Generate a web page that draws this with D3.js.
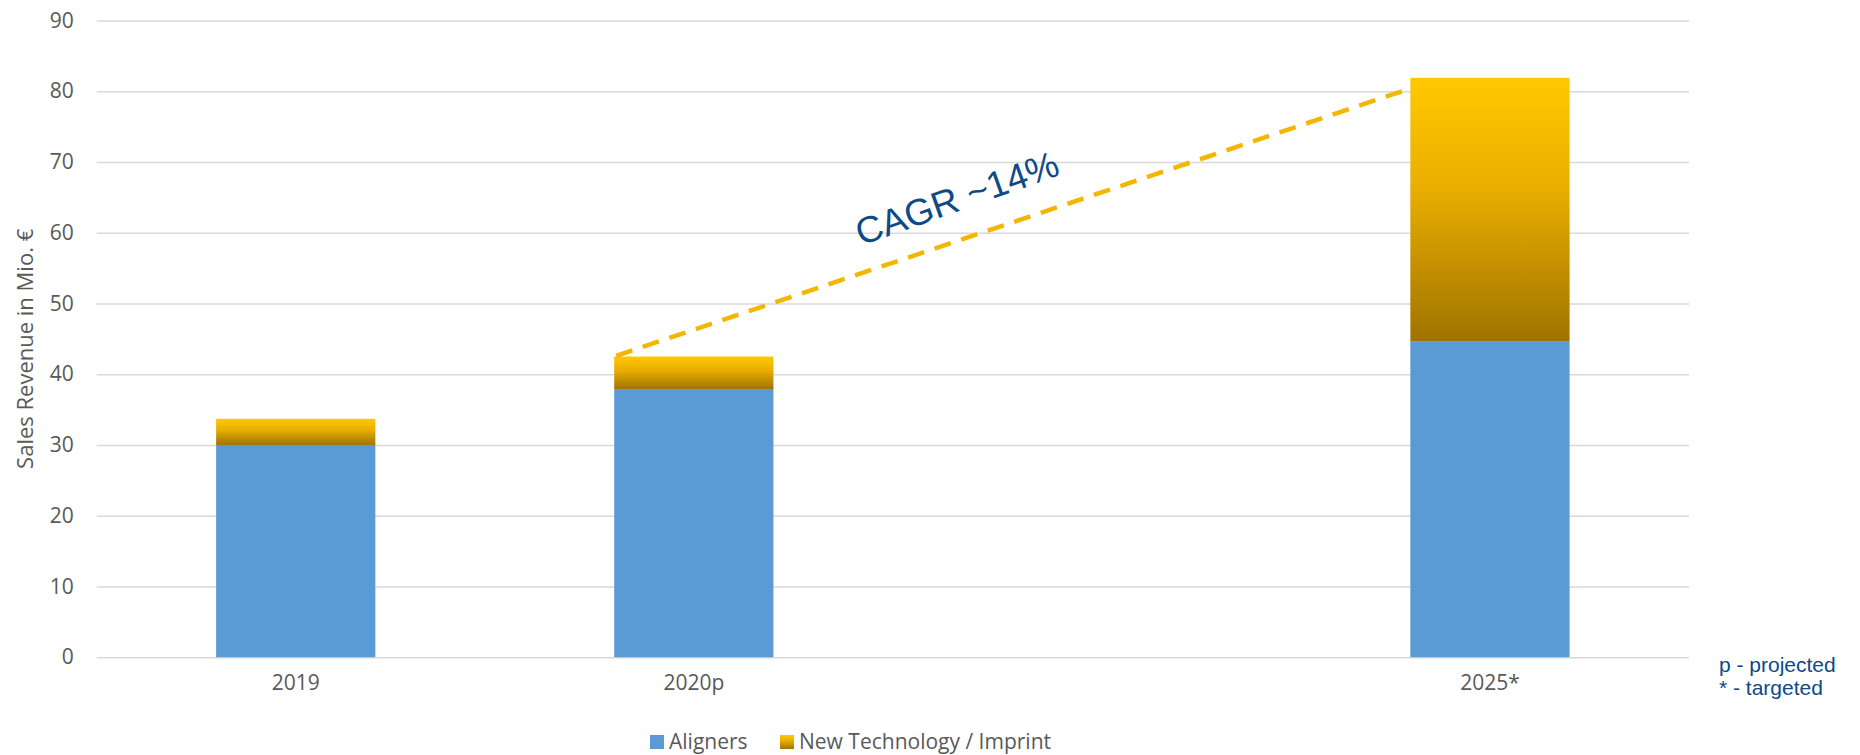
<!DOCTYPE html>
<html>
<head>
<meta charset="utf-8">
<script src="https://cdn.jsdelivr.net/npm/d3@7"></script>
<style>
  html, body { margin: 0; padding: 0; background: #fff; }
  svg { display: block; }
</style>
</head>
<body>
<svg id="chart" width="1860" height="755"></svg>
<script>
// ---- data ----
const categories = ["2019", "2020p", "", "2025*"];
const aligners   = [30, 37.9, null, 44.6];
const newTech    = [3.7, 4.6, null, 37.3];
const seriesNames = ["Aligners", "New Technology / Imprint"];
const yTicks = [0, 10, 20, 30, 40, 50, 60, 70, 80, 90];
const cagrFrom = { category: "2020p", value: 42.6 };
const cagrTo   = { category: "2025*", value: 80.4 };
const cagrLabel = "CAGR ~14%";
const yTitle = "Sales Revenue in Mio. €";
const notes = ["p - projected", "* - targeted"];

// ---- layout ----
const svg = d3.select("#chart");
const plotL = 96.7, plotR = 1689, plotT = 20.5, plotB = 657.2;
const uiFont = "'Open Sans', 'Noto Sans', sans-serif";
const arialFont = "'Liberation Sans', Arial, sans-serif";

const x = d3.scaleBand().domain(categories).range([plotL, plotR])
  .paddingInner(0.6).paddingOuter(0.3);
const y = d3.scaleLinear().domain([0, 90]).range([plotB, plotT]);

const defs = svg.append("defs");
const grad = defs.append("linearGradient").attr("id", "gold")
  .attr("x1", 0).attr("y1", 0).attr("x2", 0).attr("y2", 1);
grad.append("stop").attr("offset", "0%").attr("stop-color", "#FFC800");
grad.append("stop").attr("offset", "40%").attr("stop-color", "#EBB000");
grad.append("stop").attr("offset", "100%").attr("stop-color", "#A07300");

// gridlines + y labels
const yAxis = svg.append("g").attr("transform", `translate(${plotL},0)`)
  .call(d3.axisLeft(y).tickValues(yTicks).tickSize(-(plotR - plotL)).tickPadding(23));
yAxis.select(".domain").remove();
yAxis.selectAll(".tick line").attr("stroke", "#D9D9D9").attr("stroke-width", 1.4);
yAxis.selectAll(".tick text").attr("fill", "#595959")
  .style("font-size", "21px").style("font-family", uiFont);

// bars
const data = categories.map((c, i) => ({ c, a: aligners[i], n: newTech[i] }))
  .filter(d => d.a != null);

svg.append("g").selectAll("rect").data(data).join("rect")
  .attr("x", d => x(d.c)).attr("width", x.bandwidth())
  .attr("y", d => y(d.a)).attr("height", d => y(0) - y(d.a))
  .attr("fill", "#5B9BD5");

svg.append("g").selectAll("rect").data(data).join("rect")
  .attr("x", d => x(d.c)).attr("width", x.bandwidth())
  .attr("y", d => y(d.a + d.n)).attr("height", d => y(d.a) - y(d.a + d.n))
  .attr("fill", "url(#gold)");

// x axis labels
const xAxis = svg.append("g").attr("transform", `translate(0,${plotB})`)
  .call(d3.axisBottom(x).tickSize(0).tickPadding(18));
xAxis.select(".domain").remove();
xAxis.selectAll(".tick text").attr("fill", "#595959")
  .style("font-size", "21px").style("font-family", uiFont);

// CAGR dashed line
const x1 = x(cagrFrom.category), y1 = y(cagrFrom.value);
const x2 = x(cagrTo.category), y2 = y(cagrTo.value);
svg.append("line")
  .attr("x1", x1 + 2).attr("y1", y1).attr("x2", x2 - 6).attr("y2", y2 + (y1 - y2) * 6 / (x2 - x1))
  .attr("stroke", "#F4B600").attr("stroke-width", 4.5)
  .attr("stroke-dasharray", "17,11");

const angle = Math.atan2(y2 - y1, x2 - x1) * 180 / Math.PI;
svg.append("text")
  .attr("transform", `translate(957,198) rotate(${angle - 1})`)
  .attr("text-anchor", "middle").attr("dy", "0.35em")
  .style("font-family", arialFont)
  .style("font-size", "37px").attr("fill", "#0D4A87")
  .text(cagrLabel);

// y title
svg.append("text")
  .attr("transform", `translate(33,${(plotT + plotB) / 2 + 10}) rotate(-90)`)
  .attr("text-anchor", "middle")
  .style("font-family", "'Liberation Sans Narrow', 'Open Sans', sans-serif")
  .style("font-size", "22px").attr("fill", "#595959")
  .text(yTitle);

// notes
svg.append("g").selectAll("text").data(notes).join("text")
  .attr("x", 1719).attr("y", (d, i) => 672 + i * 23)
  .style("font-family", arialFont)
  .style("font-size", "21px").attr("fill", "#0D4A87")
  .text(d => d);

// legend
const legendX = [650, 780];
const lg = svg.append("g").selectAll("g").data(seriesNames).join("g")
  .attr("transform", (d, i) => `translate(${legendX[i]},735)`);
lg.append("rect").attr("width", 14).attr("height", 14)
  .attr("fill", (d, i) => i === 0 ? "#5B9BD5" : "url(#gold)");
lg.append("text").attr("x", 19).attr("y", 14)
  .style("font-size", "21px").style("font-family", uiFont).attr("fill", "#595959")
  .text(d => d);
</script>
</body>
</html>
